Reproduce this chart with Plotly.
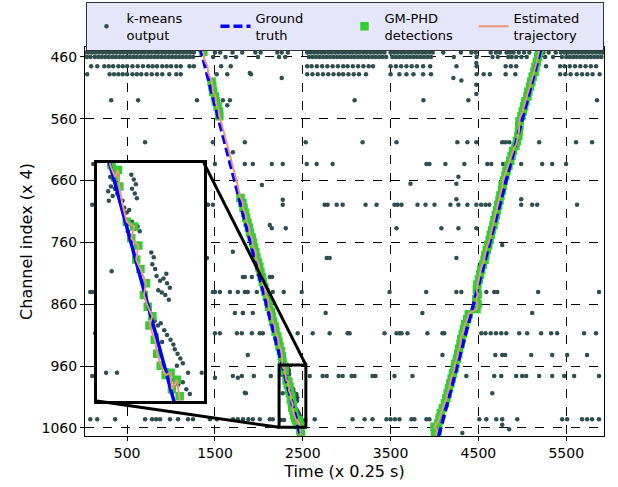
import plotly.graph_objects as go

# ---------------- data ----------------
# k-means output: noise rows (channel -> list of times)
kmeans_row_y = [453, 460, 475, 488, 530, 598, 633, 665, 699, 737, 785, 816, 840, 874, 907, 942, 976, 1004, 1046]
kmeans_row_x = [
    [20, 60, 100, 140, 180, 220, 260, 300, 340, 380, 420, 460, 500, 540, 580, 620, 660, 700, 740, 780, 820, 860, 900,
     940, 980, 1020, 1060, 1100, 1140, 1180, 1220, 1260, 1500, 1560, 1700, 1810, 1960, 2020, 2210, 2260, 2330, 2550,
     2590, 2630, 2670, 2710, 2750, 2790, 2830, 2870, 2910, 2950, 2990, 3030, 3070, 3110, 3150, 3190, 3230, 3270, 3310,
     3350, 3390, 3430, 3500, 3540, 3580, 3620, 3660, 3700, 3740, 3780, 3820, 3860, 3900, 3940, 3980, 4100, 4300, 4420,
     4470, 4640, 4700, 4745, 4820, 4860, 4900, 4960, 5020, 5080, 5240, 5300, 5380, 5440, 5480, 5520, 5560, 5600, 5640,
     5680, 5720, 5760, 5800, 5840, 5880, 5915],
    [40, 80, 130, 170, 210, 250, 290, 330, 370, 410, 450, 490, 530, 570, 610, 650, 690, 730, 770, 810, 850, 890, 930,
     970, 1010, 1050, 1090, 1130, 1170, 1210, 1250, 1480, 1620, 1740, 1990, 2230, 2300, 2570, 2610, 2650, 2690, 2730,
     2770, 2810, 2850, 2890, 2930, 2970, 3010, 3050, 3090, 3130, 3170, 3210, 3250, 3290, 3330, 3370, 3410, 3450, 3520,
     3560, 3600, 3640, 3680, 3720, 3760, 3800, 3840, 3880, 3920, 3960, 4220, 4480, 4660, 4720, 4840, 4880, 4930, 4990,
     5050, 5260, 5350, 5450, 5500, 5540, 5580, 5620, 5660, 5700, 5740, 5780, 5820, 5860, 5900],
    [90, 160, 240, 290, 340, 400, 450, 500, 560, 620, 680, 740, 790, 840, 900, 950, 1000, 1060, 1110, 1210, 1260, 1570,
     1680, 2550, 2600, 2660, 2720, 2780, 2840, 2900, 2960, 3010, 3070, 3130, 3190, 3250, 3300, 3500, 3560, 3620, 3680,
     3740, 3800, 3870, 3950, 4250, 4480, 4810, 4870, 4930, 5270, 5430, 5480, 5540, 5600, 5660, 5720, 5780, 5840],
    [45, 300, 350, 400, 450, 500, 560, 610, 660, 720, 780, 840, 900, 980, 1060, 1110, 1520, 1640, 1910, 2550, 2610,
     2670, 2730, 2790, 2850, 2910, 2960, 3020, 3080, 3140, 3220, 3500, 3600, 3680, 3760, 3870, 3960, 4480, 4560, 4630,
     4810, 4920, 5100, 5160, 5430, 5490, 5550, 5620, 5680, 5740, 5800, 5880],
    [318, 625, 1295, 3090, 3874, 4385, 5850],
    [704, 1477, 1840, 2533, 3181, 3567, 4260, 4374, 4476, 4771, 4810, 4851, 5192, 5612, 5794],
    [114, 420, 1500, 1840, 1931, 2147, 2272, 2545, 2658, 2840, 3908, 3942, 4124, 4340, 4601, 4646, 4780, 4830, 4987,
     5226, 5340, 5498],
    [3726, 4249],
    [102, 1420, 1477, 2272, 2749, 2783, 2886, 2954, 3215, 3340, 3544, 3580, 3624, 3806, 3897, 4000, 4181, 4272, 4374,
     4476, 4530, 4580, 4624, 4987, 5112, 5169, 5623],
    [2147, 2306, 3567, 4078, 4272, 4476],
    [1409, 2772, 2806, 4249],
    [1840, 2124, 2150],
    [80, 102, 340, 670, 1477, 1500, 1556, 1670, 1760, 1840, 1874, 1977, 2068, 2158, 2283, 2488, 3488, 3905, 4249, 4306,
     4590, 4680, 4715, 5180, 5873],
    [1727, 1818, 2760, 3862, 5112],
    [136, 1500, 1556, 1750, 1806, 1920, 2010, 2045, 2204, 2442, 2613, 2806, 3010, 3033, 3431, 3567, 3601, 3624, 3692,
     3919, 4090, 4112, 4533, 4580, 4640, 4700, 4760, 4817, 4964, 5055, 5214, 5328, 5396, 5703, 5839],
    [1874, 4090, 4692, 4771, 4805, 5101, 5340, 5510, 5737],
    [102, 1704, 1806, 1943, 2136, 2579, 2726, 2772, 2908, 2954, 3056, 3090, 3294, 3328, 3544, 3749, 4362, 4680, 4760,
     4930, 4998, 5044, 5192, 5340, 5476, 5590, 5873],
    [1852, 2272, 4658],
    [80, 159, 363, 704, 784, 830, 875, 988, 1079, 1193, 1250, 1443, 1522, 1704, 1760, 1820, 1880, 1931, 2010, 2124, 2158,
     2636, 3067, 3204, 3294, 3453, 3500, 3550, 3601, 3737, 3771, 3908, 3942, 4510, 4590, 4703, 4771, 4942, 5453, 5510,
     5680, 5737, 5794, 5873],
]
# k-means output: isolated points and clusters hugging the tracks
kmeans_extra_x = [2260, 4215, 4306, 4476, 4476, 4476, 1590, 1640, 4272, 4249, 4987, 4771, 1897, 1670, 1704, 2034,
                  2272, 2124, 1704, 1818, 1920, 1818, 1931, 1500, 1761, 1840, 4771, 4317, 4850,
                  2265, 2272, 2280, 2268, 2276, 2285, 2290, 2270, 2281, 2288, 2262, 2275,
                  2328, 2335, 2341, 2330, 2338, 2344,
                  2308, 2315, 2322, 2312, 2320, 2330, 2338, 2346, 2352, 2318, 2326, 2303,
                  2385, 2392, 2388, 2396,
                  2400, 2410, 2420, 2430, 2438, 2405, 2415, 2425, 2435, 2428,
                  2386, 2395, 2404, 2412, 2422, 2430, 2440, 2448, 2400, 2416,
                  2452, 2460, 2468, 2475, 2458,
                  2430, 2440, 2450, 2462, 2475, 2485, 2495, 2445, 2470, 2490,
                  2264, 2256, 2287, 2529]
kmeans_extra_y = [494, 494, 498, 505, 520, 470, 530, 538, 654, 690, 690, 764, 486, 530, 614, 667,
                  691, 732, 775, 816, 816, 874, 874, 979, 979, 1003, 1055, 1068, 1062,
                  959, 961, 960, 964, 965, 963, 966, 968, 969, 971, 970, 972,
                  963, 965, 967, 969, 971, 973,
                  977, 979, 978, 982, 984, 983, 986, 985, 987, 987, 989, 974,
                  996, 998, 1001, 1003,
                  1006, 1008, 1007, 1009, 1011, 1012, 1013, 1014, 1016, 1005,
                  1023, 1025, 1027, 1026, 1029, 1031, 1033, 1035, 1031, 1034,
                  1037, 1039, 1041, 1043, 1044,
                  1046, 1048, 1050, 1052, 1051, 1054, 1056, 1055, 1057, 1047,
                  974, 1047, 1047, 1047]

# ground truth (two straight tracks)
gt1_x = [1330, 2475]
gt1_y = [444, 1073]
gt2_x = [4048, 5216]
gt2_y = [1073, 444]

# GM-PHD detections
t1_det_y = [446, 452, 500, 508, 516, 524, 532, 540, 548, 556, 688, 696, 704, 712, 720, 728, 736, 744, 752, 760, 768,
            776, 784, 792, 800, 808, 816, 824, 832, 840, 848, 856, 864, 872, 880, 888, 896, 904, 912, 920, 928, 936,
            944, 952, 959, 964, 961, 968, 983, 985, 990, 993, 999, 1003, 1009, 1014, 1019, 1023, 1027, 1033, 1039,
            1044, 1048, 1047, 1054, 1050, 1057, 1064, 1070]
t1_det_x = [1352, 1368, 1462, 1470, 1480, 1500, 1510, 1530, 1545, 1550, 1790, 1812, 1825, 1842, 1855, 1870, 1885,
            1898, 1918, 1932, 1945, 1960, 1972, 1990, 2005, 2018, 2032, 2045, 2062, 2075, 2092, 2105, 2115, 2138,
            2150, 2162, 2180, 2190, 2210, 2222, 2235, 2250, 2262, 2268, 2272, 2284, 2290, 2294, 2315, 2336, 2328,
            2348, 2342, 2354, 2370, 2364, 2375, 2388, 2380, 2395, 2402, 2412, 2426, 2440, 2444, 2458, 2466, 2472, 2480]
t2_det_y = [1070, 1064, 1058, 1052, 1044, 1036, 1028, 1020, 1012, 1004, 996, 988, 980, 972, 964, 956, 948, 940, 932,
            924, 916, 908, 900, 892, 884, 876, 868, 860, 852, 844, 836, 828, 820, 812, 804, 796, 788, 780, 772, 764,
            756, 748, 740, 732, 724, 716, 708, 700, 692, 684, 676, 668, 660, 652, 644, 636, 628, 620, 612, 604, 596,
            588, 580, 572, 564, 556, 548, 540, 532, 524, 516, 508, 500, 492, 484, 476, 468, 460, 452, 446]
t2_det_x = [4005, 4035, 4000, 4045, 4058, 4072, 4095, 4118, 4135, 4150, 4165, 4180, 4195, 4210, 4228, 4238, 4255,
            4270, 4280, 4296, 4305, 4322, 4335, 4350, 4372, 4390, 4478, 4490, 4476, 4492, 4482, 4488, 4505, 4520,
            4532, 4552, 4570, 4580, 4595, 4612, 4628, 4640, 4655, 4672, 4683, 4698, 4712, 4725, 4740, 4750, 4768,
            4775, 4790, 4808, 4820, 4842, 4862, 4878, 4895, 4922, 4938, 4955, 4962, 4966, 4968, 4990, 5005, 5020,
            5035, 5058, 5068, 5088, 5102, 5118, 5138, 5150, 5165, 5180, 5190, 5200]

# estimated trajectories
t1_est_y = [444, 455, 465, 475, 485, 495, 505, 515, 525, 535, 545, 555, 565, 590, 615, 640, 665, 685, 695, 705, 715,
            725, 735, 745, 755, 765, 775, 785, 795, 805, 815, 825, 835, 845, 855, 865, 875, 885, 895, 905, 915, 925,
            935, 945, 952, 959, 964, 961, 968, 975, 983, 985, 990, 993, 999, 1003, 1009, 1014, 1019, 1023, 1027,
            1033, 1039, 1044, 1048, 1047, 1054, 1050, 1057, 1064, 1072]
t1_est_x = [1348, 1372, 1380, 1415, 1420, 1452, 1470, 1475, 1505, 1512, 1540, 1548, 1570, 1618, 1662, 1708, 1755,
            1785, 1815, 1822, 1850, 1858, 1888, 1895, 1925, 1930, 1962, 1968, 1998, 2005, 2035, 2040, 2070, 2078,
            2108, 2112, 2145, 2150, 2182, 2188, 2218, 2225, 2255, 2262, 2268, 2268, 2282, 2290, 2294, 2302, 2315,
            2336, 2328, 2348, 2342, 2354, 2370, 2364, 2375, 2388, 2380, 2395, 2402, 2412, 2426, 2440, 2444, 2458,
            2466, 2472, 2480]
t2_est_y = [1072, 1065, 1058, 1050, 1042, 1035, 1025, 1015, 1005, 995, 985, 975, 965, 955, 945, 935, 925, 915, 905,
            895, 885, 875, 868, 860, 852, 845, 838, 830, 820, 810, 800, 790, 780, 770, 760, 750, 740, 730, 720, 710,
            700, 690, 680, 670, 660, 650, 640, 630, 620, 610, 600, 590, 580, 570, 560, 550, 540, 530, 520, 510, 500,
            490, 480, 470, 460, 450, 444]
t2_est_x = [4010, 4030, 4000, 4040, 4060, 4075, 4100, 4130, 4145, 4170, 4180, 4200, 4225, 4235, 4262, 4270, 4295,
            4300, 4325, 4340, 4370, 4390, 4478, 4490, 4475, 4492, 4480, 4488, 4505, 4522, 4535, 4562, 4578, 4590,
            4618, 4635, 4648, 4672, 4685, 4705, 4722, 4740, 4750, 4770, 4780, 4805, 4825, 4858, 4880, 4900, 4935,
            4950, 4962, 4965, 4968, 4998, 5018, 5040, 5060, 5078, 5100, 5125, 5140, 5160, 5175, 5190, 5200]

x_ticks = [500, 1500, 2500, 3500, 4500, 5500]
y_ticks = [460, 560, 660, 760, 860, 960, 1060]
x_range = [20, 5930]
y_range = [1073, 444]
zoom_x = [2230, 2535]
zoom_y = [958, 1059]
inset_dom_x = [0.023, 0.229]
inset_dom_y = [0.09, 0.702]

# ---------------- assemble ----------------
km_x, km_y = [], []
for yy, xs in zip(kmeans_row_y, kmeans_row_x):
    km_x += xs
    km_y += [yy] * len(xs)
km_x += kmeans_extra_x
km_y += kmeans_extra_y

gt_x = gt1_x + [None] + gt2_x
gt_y = gt1_y + [None] + gt2_y
det_x = t1_det_x + t2_det_x
det_y = t1_det_y + t2_det_y
est_x = t1_est_x + [None] + t2_est_x
est_y = t1_est_y + [None] + t2_est_y

KM_C = "#2F4F4F"
GT_C = "#0000FF"
DET_C = "#32CD32"
EST_C = "#E9967A"

fig = go.Figure()
for ax, show in (("", True), ("2", False)):
    xa, ya = "x" + ax, "y" + ax
    fig.add_trace(go.Scatter(x=km_x, y=km_y, mode="markers", name="k-means<br>output",
                             marker=dict(color=KM_C, size=4.5), xaxis=xa, yaxis=ya,
                             showlegend=show, legendrank=1))
    fig.add_trace(go.Scatter(x=det_x, y=det_y, mode="markers", name="GM-PHD<br>detections",
                             marker=dict(color=DET_C, size=8.5, symbol="square"), xaxis=xa, yaxis=ya,
                             showlegend=show, legendrank=3))
    fig.add_trace(go.Scatter(x=gt_x, y=gt_y, mode="lines", name="Ground<br>truth",
                             line=dict(color=GT_C, width=3.5, dash="9px,4px" if show else "solid"),
                             xaxis=xa, yaxis=ya, showlegend=show, legendrank=2))
    fig.add_trace(go.Scatter(x=est_x, y=est_y, mode="lines", name="Estimated<br>trajectory",
                             line=dict(color=EST_C, width=2), xaxis=xa, yaxis=ya,
                             showlegend=show, legendrank=4))

# unit conversions from data to paper for connectors
def px(x):
    return (x - x_range[0]) / (x_range[1] - x_range[0])

def py(y):
    return (y - y_range[0]) / (y_range[1] - y_range[0])

shapes = [
    dict(type="rect", xref="x2", yref="y2", x0=zoom_x[0], x1=zoom_x[1], y0=zoom_y[0], y1=zoom_y[1],
         fillcolor="white", line=dict(width=0), layer="below"),
    dict(type="rect", xref="x", yref="y", x0=zoom_x[0], x1=zoom_x[1], y0=zoom_y[0], y1=zoom_y[1],
         line=dict(color="black", width=3), layer="above"),
    dict(type="line", xref="paper", yref="paper", x0=inset_dom_x[1], y0=inset_dom_y[1],
         x1=px(zoom_x[1]), y1=py(zoom_y[0]), line=dict(color="black", width=3), layer="above"),
    dict(type="line", xref="paper", yref="paper", x0=inset_dom_x[0], y0=inset_dom_y[0],
         x1=px(zoom_x[0]), y1=py(zoom_y[1]), line=dict(color="black", width=3), layer="above"),
]

axis_common = dict(showgrid=True, gridcolor="black", griddash="dash", gridwidth=1,
                   showline=True, mirror=True, linecolor="black", linewidth=1,
                   ticks="outside", ticklen=4, tickcolor="black", zeroline=False,
                   tickfont=dict(size=14, color="black"))

fig.update_layout(
    width=618, height=487,
    margin=dict(l=85, r=14, t=47, b=51, autoexpand=False),
    paper_bgcolor="white", plot_bgcolor="white",
    font=dict(family="DejaVu Sans", size=14, color="black"),
    xaxis=dict(domain=[0, 1], range=x_range, tickvals=x_ticks,
               title=dict(text="Time (x 0.25 s)", font=dict(size=16), standoff=6), **axis_common),
    yaxis=dict(domain=[0, 1], range=y_range, tickvals=y_ticks,
               title=dict(text="Channel index (x 4)", font=dict(size=16), standoff=4), **axis_common),
    xaxis2=dict(domain=inset_dom_x, anchor="y2", range=zoom_x, showticklabels=False, showgrid=False,
                showline=True, mirror=True, linecolor="black", linewidth=3, zeroline=False, ticks=""),
    yaxis2=dict(domain=inset_dom_y, anchor="x2", range=[zoom_y[1], zoom_y[0]], showticklabels=False,
                showgrid=False, showline=True, mirror=True, linecolor="black", linewidth=3,
                zeroline=False, ticks=""),
    shapes=shapes,
    legend=dict(orientation="h", x=0.5, xanchor="center", y=1.116, yanchor="top",
                bgcolor="#E6E6FA", bordercolor="#333333", borderwidth=1,
                font=dict(size=13), entrywidth=84, entrywidthmode="pixels",
                itemsizing="trace", tracegroupgap=0),
)

fig.write_html("out.html")
